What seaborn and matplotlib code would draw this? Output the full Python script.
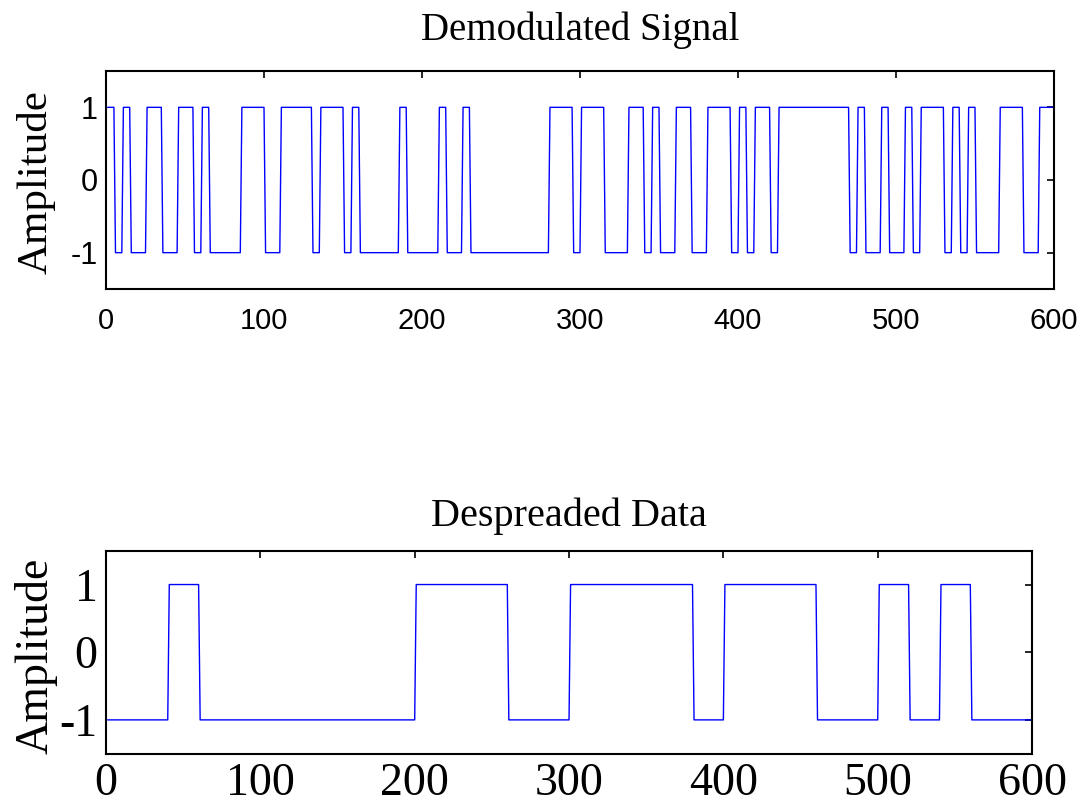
import numpy as np
import matplotlib
matplotlib.use("Agg")
import matplotlib.pyplot as plt
import seaborn as sns

# chip values of the demodulated signal (5 samples per chip)
chips = [1, -1, 1, -1, -1, 1, 1, -1, -1, 1, 1, -1, 1, -1, -1, -1, -1, 1, 1, 1,
         -1, -1, 1, 1, 1, 1, -1, 1, 1, 1, -1, 1, -1, -1, -1, -1, -1, 1, -1, -1,
         -1, -1, 1, -1, -1, 1, -1, -1, -1, -1, -1, -1, -1, -1, -1, -1, 1, 1, 1, -1,
         1, 1, 1, -1, -1, -1, 1, 1, -1, 1, -1, -1, 1, 1, -1, -1, 1, 1, 1, -1,
         1, -1, 1, 1, -1, 1, 1, 1, 1, 1, 1, 1, 1, 1, -1, 1, -1, -1, 1, -1,
         -1, 1, -1, 1, 1, 1, -1, 1, -1, 1, -1, -1, -1, 1, 1, 1, -1, -1, 1, 1]
# recovered data bits (20 samples per bit)
bits = [-1, -1, 1, -1, -1, -1, -1, -1, -1, -1, 1, 1, 1, -1, -1,
        1, 1, 1, 1, -1, 1, 1, 1, -1, -1, 1, -1, 1, -1, -1]
samples_per_chip = 5
samples_per_bit = 20

demod = np.repeat(chips, samples_per_chip)
despread = np.repeat(bits, samples_per_bit)
n1 = np.arange(1, len(demod) + 1)
n2 = np.arange(1, len(despread) + 1)

sns.set_style("white")
plt.rcParams["axes.unicode_minus"] = False
plt.rcParams["text.color"] = "black"
plt.rcParams["axes.labelcolor"] = "black"
plt.rcParams["xtick.color"] = "black"
plt.rcParams["ytick.color"] = "black"
serif = ["Liberation Serif", "DejaVu Serif"]
sans = ["Liberation Sans", "DejaVu Sans"]

fig = plt.figure(figsize=(10.85, 8.05), dpi=100)
ax1 = fig.add_axes([0.0977, 0.641, 0.8737, 0.2708])
ax2 = fig.add_axes([0.0977, 0.0637, 0.8535, 0.2522])

sns.lineplot(x=n1, y=demod, ax=ax1, color="blue", linewidth=1.0)
sns.lineplot(x=n2, y=despread, ax=ax2, color="blue", linewidth=1.0)

for ax in (ax1, ax2):
    ax.set_xlim(0, 600)
    ax.set_ylim(-1.5, 1.5)
    ax.set_xticks([0, 100, 200, 300, 400, 500, 600])
    ax.set_yticks([-1, 0, 1])
    ax.tick_params(direction="in", top=True, right=True, length=5, width=1.2)
    for s in ax.spines.values():
        s.set_color("black")
        s.set_linewidth(1.5)

ax1.set_title("Demodulated Signal", family=serif, fontsize=28, pad=22)
ax1.set_ylabel("Amplitude", family=serif, fontsize=31)
ax1.yaxis.set_label_coords(-0.053, 0.49)
ax1.tick_params(axis="x", labelsize=21, pad=13)
ax1.tick_params(axis="y", labelsize=22, pad=6)
for t in ax1.get_xticklabels() + ax1.get_yticklabels():
    t.set_family(sans)

ax2.set_title("Despreaded Data", family=serif, fontsize=29, pad=18)
ax2.set_ylabel("Amplitude", family=serif, fontsize=33)
ax2.yaxis.set_label_coords(-0.052, 0.48)
ax2.tick_params(axis="both", labelsize=33, pad=6)
for t in ax2.get_xticklabels() + ax2.get_yticklabels():
    t.set_family(serif)

fig.savefig("out.png", dpi=100)
